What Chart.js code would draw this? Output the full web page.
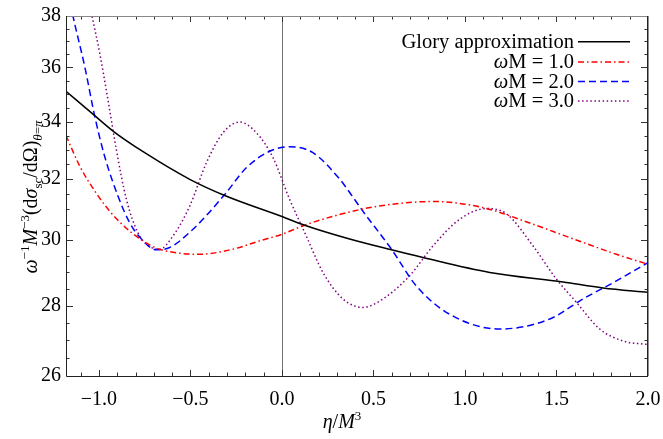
<!DOCTYPE html>
<html><head><meta charset="utf-8">
<script src="https://cdn.jsdelivr.net/npm/chart.js@4/dist/chart.umd.min.js"></script>
<style>html,body{margin:0;padding:0;background:#fff}#wrap{width:663px;height:439px}</style>
</head><body><div id="wrap"><canvas id="c" width="663" height="439"></canvas></div>
<script>
// ---- data ----
const gloryX = [-1.18,-1.023,-0.923,-0.75,-0.504,-0.313,0,0.124,0.37,0.598,0.77,1.135,1.536,1.754,2.0];
const gloryY = [35.10,34.21,33.66,32.90,31.99,31.45,30.76,30.48,30.04,29.70,29.46,29.00,28.71,28.53,28.40];

const w1X = [-1.18,-1.105,-1.023,-0.942,-0.832,-0.705,-0.614,-0.45,-0.268,-0.122,0,0.124,0.37,0.552,0.825,1.098,1.372,1.645,1.827,2.0];
const w1Y = [33.50,32.44,31.60,30.94,30.29,29.80,29.64,29.56,29.72,29.98,30.19,30.48,30.91,31.12,31.25,31.05,30.51,29.93,29.56,29.25];

const w2X = [-1.18,-1.142,-1.078,-1.023,-0.969,-0.896,-0.832,-0.768,-0.686,-0.614,-0.486,-0.313,-0.195,-0.067,0.042,0.169,0.315,0.37,0.434,0.598,0.734,0.916,1.19,1.463,1.645,1.827,2.0];
const w2Y = [39.4,38.0,36.04,34.19,32.78,31.43,30.56,30.04,29.70,29.77,30.35,31.48,32.38,32.95,33.11,32.90,32.00,31.55,31.00,29.72,28.59,27.75,27.32,27.61,28.20,28.74,29.30];

const w3X = [-1.18,-1.10,-1.038,-0.996,-0.951,-0.905,-0.850,-0.787,-0.723,-0.668,-0.596,-0.504,-0.413,-0.322,-0.231,-0.140,-0.049,0.042,0.133,0.224,0.333,0.443,0.552,0.698,0.825,0.971,1.117,1.226,1.372,1.499,1.609,1.736,1.863,1.973,2.0];
const w3Y = [43.5,40.3,38.0,36.55,34.80,33.01,31.32,30.24,29.80,29.72,30.13,31.10,32.55,33.60,33.98,33.60,32.73,31.32,30.13,29.00,28.20,27.95,28.20,28.90,29.82,30.67,31.02,30.85,29.82,28.80,28.10,27.32,26.98,26.89,26.88];

const xTickValues = [-1.0,-0.5,0.0,0.5,1.0,1.5,2.0];
const yTickValues = [26,28,30,32,34,36,38];
const seriesNames = ['Glory approximation','1.0','2.0','3.0'];

const FONT = '"Liberation Serif","Times New Roman",serif';
const pts = (xs, ys) => xs.map((x,i)=>({x, y: ys[i]}));
const fmt = v => { const s = Math.abs(v).toFixed(1); return v < 0 ? '\u2212' + s : s; };

const styles = [
  {color:'#000000', dash:[]},
  {color:'#ff0000', dash:[6,3,1.5,3]},
  {color:'#0000ff', dash:[7,4]},
  {color:'#800080', dash:[1.5,2.6]}
];
const datas = [pts(gloryX,gloryY), pts(w1X,w1Y), pts(w2X,w2Y), pts(w3X,w3Y)];

const decor = {
  id:'decor',
  beforeDatasetsDraw(chart){
    const {ctx, chartArea:a, scales:{x}} = chart;
    const px = x.getPixelForValue(0);
    ctx.save();
    ctx.strokeStyle='#707070'; ctx.lineWidth=1;
    ctx.beginPath(); ctx.moveTo(Math.round(px)+0.5,a.top); ctx.lineTo(Math.round(px)+0.5,a.bottom); ctx.stroke();
    ctx.restore();
  },
  afterDatasetsDraw(chart){
    const {ctx, chartArea:a, scales:{x,y}} = chart;
    ctx.save();
    ctx.lineWidth=1;
    ctx.strokeStyle='#333';
    for(let k=-11;k<=20;k++){
      const v=k/10; const p=Math.round(x.getPixelForValue(v))+0.5;
      if(p<a.left+1||p>a.right-1) continue;
      const L = (k%5===0)?6:3.5;
      ctx.beginPath();
      ctx.moveTo(p,a.bottom); ctx.lineTo(p,a.bottom-L);
      ctx.moveTo(p,a.top); ctx.lineTo(p,a.top+L);
      ctx.stroke();
    }
    for(let k=52;k<=76;k++){
      const v=k/2; const p=Math.round(y.getPixelForValue(v))+0.5;
      if(p<a.top+1||p>a.bottom-1) continue;
      const L = (k%4===0)?7:3.5;
      ctx.beginPath();
      ctx.moveTo(a.left,p); ctx.lineTo(a.left+L,p);
      ctx.moveTo(a.right,p); ctx.lineTo(a.right-L,p);
      ctx.stroke();
    }
    ctx.strokeStyle='#888'; ctx.beginPath(); ctx.moveTo(a.left,a.top+0.5); ctx.lineTo(a.right,a.top+0.5); ctx.stroke();
    ctx.strokeStyle='#222';
    ctx.beginPath(); ctx.moveTo(a.left+0.5,a.top); ctx.lineTo(a.left+0.5,a.bottom+0.5); ctx.lineTo(a.right,a.bottom+0.5); ctx.stroke();
    ctx.lineWidth=1.5;
    ctx.beginPath(); ctx.moveTo(a.right-0.25,a.top); ctx.lineTo(a.right-0.25,a.bottom); ctx.stroke();

    const drawRich = (parts, sx, sy) => {
      let cx = sx;
      for(const p of parts){
        ctx.font = p.f; ctx.fillText(p.t, cx, sy + (p.dy||0)); cx += ctx.measureText(p.t).width;
      }
      return cx - sx;
    };
    const measure = parts => parts.reduce((s,p)=>{ctx.font=p.f; return s+ctx.measureText(p.t).width;},0);
    const N = '20px '+FONT, I = 'italic 20px '+FONT, S = '13px '+FONT, SI = 'italic 13px '+FONT;
    ctx.fillStyle='#000'; ctx.textBaseline='alphabetic'; ctx.textAlign='left';

    const legendN = '20.5px '+FONT, legendI = 'italic 20.5px '+FONT;
    const rows = [
      [{t:'Glory approximation',f:legendN}],
      [{t:'\u03C9',f:legendI},{t:'M = 1.0',f:legendN}],
      [{t:'\u03C9',f:legendI},{t:'M = 2.0',f:legendN}],
      [{t:'\u03C9',f:legendI},{t:'M = 3.0',f:legendN}]
    ];
    const rowY = [41.7,62.0,81.5,101.0];
    const textRight = 574;
    rows.forEach((r,i)=>{
      const w = measure(r);
      drawRich(r, textRight - w, rowY[i]+6);
      ctx.save();
      ctx.strokeStyle = styles[i].color; ctx.setLineDash(styles[i].dash); ctx.lineWidth=1.5;
      ctx.beginPath(); ctx.moveTo(578,rowY[i]); ctx.lineTo(630,rowY[i]); ctx.stroke();
      ctx.restore();
    });

    const xt = [{t:'\u03B7',f:I},{t:'/',f:N},{t:'M',f:I},{t:'3',f:S,dy:-8}];
    const xw = measure(xt);
    drawRich(xt, 342 - xw/2, 428);

    const yt = [
      {t:'\u03C9',f:I},{t:'\u22121',f:S,dy:-8},{t:'M',f:I},{t:'\u22123',f:S,dy:-8},
      {t:'(d',f:N},{t:'\u03C3',f:I},{t:'sc',f:S,dy:5},{t:'/d\u03A9)',f:N},
      {t:'\u03B8',f:SI,dy:5},{t:'=',f:S,dy:5},{t:'\u03C0',f:SI,dy:5}
    ];
    const yw = measure(yt);
    ctx.save();
    ctx.translate(37,197); ctx.rotate(-Math.PI/2);
    drawRich(yt, -yw/2, 0);
    ctx.restore();
    ctx.restore();
  }
};

new Chart(document.getElementById('c'), {
  type:'line',
  data:{ datasets: datas.map((d,i)=>({
    label: seriesNames[i], data:d, borderColor:styles[i].color, borderDash:styles[i].dash,
    borderWidth:1.5, pointRadius:0, fill:false, cubicInterpolationMode:'monotone'
  }))},
  options:{
    responsive:false, animation:false, devicePixelRatio:1,
    layout:{padding:{top:16,right:15,left:0,bottom:0}},
    plugins:{legend:{display:false}, tooltip:{enabled:false}},
    scales:{
      x:{ type:'linear', min:-1.18, max:2.0,
        grid:{display:false, drawTicks:false}, border:{display:false},
        afterBuildTicks: s => { s.ticks = xTickValues.map(v=>({value:v})); },
        afterFit: s => { s.height = 63; s.paddingLeft = 0; s.paddingRight = 0; },
        ticks:{ padding:12, color:'#000', font:{family:FONT,size:20}, callback:v=>fmt(v), maxRotation:0, autoSkip:false }
      },
      y:{ type:'logarithmic', min:26, max:38,
        grid:{display:false, drawTicks:false}, border:{display:false},
        afterBuildTicks: s => { s.ticks = yTickValues.map(v=>({value:v})); },
        afterFit: s => { s.width = 66; s.paddingTop = 0; s.paddingBottom = 0; },
        ticks:{ padding:5, color:'#000', font:{family:FONT,size:20}, callback:v=>String(v), autoSkip:false }
      }
    }
  },
  plugins:[decor]
});
</script></body></html>
